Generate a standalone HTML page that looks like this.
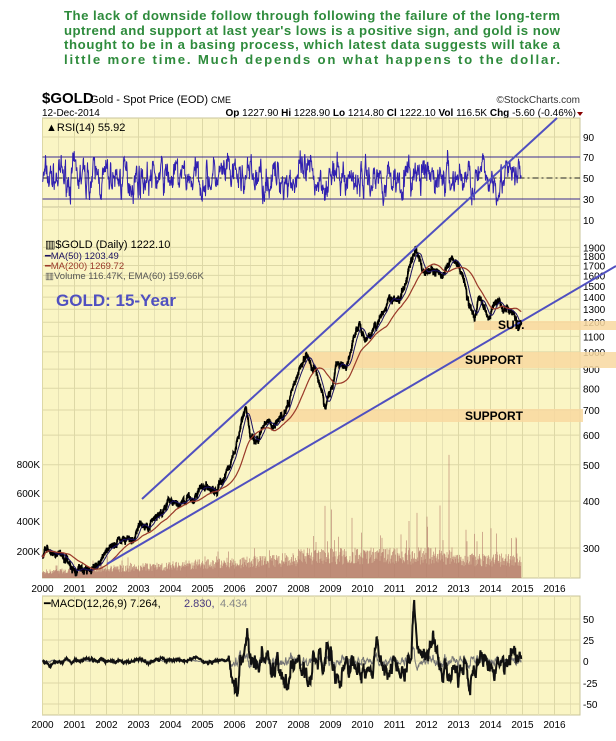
<!DOCTYPE html>
<html><head><meta charset="utf-8"><style>
body{margin:0;background:#fff;width:616px;height:741px;overflow:hidden;font-family:"Liberation Sans",sans-serif}
svg{position:absolute;left:0;top:0}
</style></head><body>
<svg id="s" width="616" height="741" xmlns="http://www.w3.org/2000/svg" font-family="Liberation Sans, sans-serif">
<g fill="#2e8b3c" font-weight="bold" font-size="13.2">
<text x="64" y="20" textLength="496" lengthAdjust="spacing">The lack of downside follow through following the failure of the long-term</text>
<text x="64" y="35" textLength="496" lengthAdjust="spacing">uptrend and support at last year's lows is a positive sign, and gold is now</text>
<text x="64" y="49" textLength="496" lengthAdjust="spacing">thought to be in a basing process, which latest data suggests will take a</text>
<text x="64" y="64" textLength="496" lengthAdjust="spacing">little more time. Much depends on what happens to the dollar.</text>
</g>
<text x="42" y="103" font-size="15" font-weight="bold" fill="#000">$GOLD</text>
<text x="90" y="103" font-size="11" fill="#000">Gold - Spot Price (EOD) <tspan font-size="9">CME</tspan></text>
<text x="580" y="103" font-size="10" fill="#333" text-anchor="end">©StockCharts.com</text>
<text x="42" y="116" font-size="10" fill="#000">12-Dec-2014</text>
<text x="576" y="116" font-size="10" fill="#000" text-anchor="end"><tspan font-weight="bold">Op</tspan> 1227.90  <tspan font-weight="bold">Hi</tspan> 1228.90  <tspan font-weight="bold">Lo</tspan> 1214.80  <tspan font-weight="bold">Cl</tspan> 1222.10  <tspan font-weight="bold">Vol</tspan> 116.5K  <tspan font-weight="bold">Chg</tspan> -5.60 (-0.46%)</text>
<polygon points="577,112 583,112 580,116" fill="#800"/>
<g id="g"></g>
</svg>
<script>
var NS="http://www.w3.org/2000/svg",G=document.getElementById('g');
function el(t,a,txt){var e=document.createElementNS(NS,t);for(var k in a)e.setAttribute(k,a[k]);if(txt!=null)e.textContent=txt;G.appendChild(e);return e;}
var L=42.5,R=580,BG="#faf5c4",GR="#ddd8a6";
function X(t){return L+32*(t-2000);}
var seed=7;function rnd(){seed=(seed*16807)%2147483647;return seed/2147483647;}
function gauss(){return (rnd()+rnd()+rnd()-1.5)*1.4;}
var panels=[[118,207],[207,578],[596,715]];
panels.forEach(function(p){el('rect',{x:L,y:p[0],width:R-L,height:p[1]-p[0],fill:BG,stroke:"#c8c49a"});
 for(var t=2000;t<=2016.5;t+=0.5){var x=X(t);el('line',{x1:x,x2:x,y1:p[0],y2:p[1],stroke:t%1?"#e6e1b4":GR,"stroke-width":1});}});
[137,157,178,199,220].forEach(function(y,i){el('line',{x1:L,x2:R,y1:y,y2:y,stroke:GR});el('text',{x:R+3,y:y+4,"font-size":10,fill:"#000"},[90,70,50,30,10][i]);});
el('line',{x1:L,x2:R,y1:157,y2:157,stroke:"#3a2a90"});el('line',{x1:L,x2:R,y1:199,y2:199,stroke:"#3a2a90"});
el('line',{x1:L,x2:R,y1:178,y2:178,stroke:"#222","stroke-dasharray":"6,3,2,3"});
el('text',{x:46,y:131,"font-size":11,fill:"#000"},"▲RSI(14) 55.92");
var d="",v=50;for(var i=0;i<=1440;i++){var t=2000+i/96;if(t>2014.96)break;v+= (50-v)*0.25+gauss()*9;v=Math.max(18,Math.min(86,v));d+=(i?"L":"M")+X(t).toFixed(1)+","+(178-(v-50)*1.05).toFixed(1);}
el('path',{d:d,fill:"none",stroke:"#3020b0","stroke-width":1});
function PY(p){return 548-375*Math.log10(p/300);}
[1900,1800,1700,1600,1500,1400,1300,1200,1100,1000,900,800,700,600,500,400,300].forEach(function(p){var y=PY(p);el('line',{x1:L,x2:R,y1:y,y2:y,stroke:GR});el('text',{x:R+3,y:y+4,"font-size":10,fill:"#000"},p);});
[[800,464],[600,493],[400,521],[200,551]].forEach(function(a){el('text',{x:40,y:a[1]+4,"font-size":10,fill:"#000","text-anchor":"end"},a[0]+"K");});
el('rect',{x:474,y:321,width:142,height:9,fill:"#f8d8a0",opacity:0.85});
el('rect',{x:302,y:352,width:314,height:16,fill:"#f8d8a0",opacity:0.85});
el('rect',{x:246,y:409,width:337,height:13,fill:"#f8d8a0",opacity:0.85});
for(var i=0;i<960;i++){var t=2000+i/64;if(t>2014.96)break;var base=t<2007.5?6+ (t-2000)*1.5:t<2008?18:22-(t>2013?4:0);var h=base*(0.6+rnd()*0.8);if(rnd()<0.05)h*=1.8;if(t>2007.5&&rnd()<0.02)h*=2.4;el('line',{x1:X(t),x2:X(t),y1:578,y2:578-h,stroke:"#b47a6a","stroke-width":0.6});}
var K=[[2000,285],[2000.1,300],[2000.5,285],[2001.3,260],[2001.7,275],[2002,290],[2002.4,320],[2002.8,320],[2003.1,360],[2003.3,330],[2003.9,400],[2004.3,390],[2004.6,400],[2004.95,440],[2005.4,425],[2005.9,500],[2006.35,720],[2006.5,580],[2006.8,610],[2007,640],[2007.6,680],[2008.2,1000],[2008.5,900],[2008.85,720],[2009.2,940],[2009.5,930],[2009.9,1180],[2010.1,1080],[2010.5,1230],[2010.9,1400],[2011.1,1330],[2011.65,1900],[2011.95,1600],[2012.3,1650],[2012.5,1580],[2012.75,1790],[2013.1,1650],[2013.3,1400],[2013.5,1200],[2013.65,1400],[2013.95,1220],[2014.2,1380],[2014.5,1310],[2014.75,1220],[2014.87,1150],[2014.96,1222]];
function price(t){for(var j=1;j<K.length;j++)if(t<=K[j][0]){var a=K[j-1],b=K[j],f=(t-a[0])/(b[0]-a[0]);return Math.exp(Math.log(a[1])+f*(Math.log(b[1])-Math.log(a[1])));}return 1222;}
var pts=[],w=0;for(var t=2000;t<=2014.96;t+=1/250){w+=(-w)*0.05+gauss()*0.008;var p=price(t)*(1+w+gauss()*0.01);pts.push([t,p]);}
function ma(wn){var o=[],s=0;for(var i=0;i<pts.length;i++){s+=pts[i][1];if(i>=wn)s-=pts[i-wn][1];o.push([pts[i][0],s/Math.min(i+1,wn)]);}return o;}
function path(a){return a.map(function(q,i){return (i?"L":"M")+X(q[0]).toFixed(1)+","+PY(q[1]).toFixed(1);}).join("");}
el('path',{d:path(pts),fill:"none",stroke:"#000","stroke-width":1.7});
el('path',{d:path(ma(50)),fill:"none",stroke:"#1a1060","stroke-width":1});
el('path',{d:path(ma(200)),fill:"none",stroke:"#9a3a2a","stroke-width":1.2});
el('line',{x1:142,y1:499,x2:557,y2:118,stroke:"#5050c0","stroke-width":2});
el('line',{x1:107,y1:564,x2:616,y2:266,stroke:"#5050c0","stroke-width":2});
el('text',{x:498,y:329,"font-size":12,"font-weight":"bold",fill:"#000"},"SUP.");
el('text',{x:465,y:364,"font-size":12,"font-weight":"bold",fill:"#000"},"SUPPORT");
el('text',{x:465,y:420,"font-size":12,"font-weight":"bold",fill:"#000"},"SUPPORT");
el('text',{x:45,y:248,"font-size":11,fill:"#000"},"▥$GOLD (Daily) 1222.10");
el('text',{x:45,y:259,"font-size":9.5,fill:"#1a1060"},"━MA(50) 1203.49");
el('text',{x:45,y:269,"font-size":9.5,fill:"#9a3a2a"},"━MA(200) 1269.72");
el('text',{x:45,y:279,"font-size":9.5,fill:"#555"},"▥Volume 116.47K, EMA(60) 159.66K");
el('text',{x:56,y:306,"font-size":17,"font-weight":"bold",fill:"#5050c0"},"GOLD: 15-Year");
function MY(v){return 661-v*0.86;}
[[50,619],[25,640],[0,661],[-25,683],[-50,704]].forEach(function(a){el('line',{x1:L,x2:R,y1:a[1],y2:a[1],stroke:GR});el('text',{x:R+3,y:a[1]+4,"font-size":10,fill:"#000"},a[0]);});
el('text',{x:44,y:607,"font-size":11,fill:"#000"},"━MACD(12,26,9) 7.264, ");
el('text',{x:184,y:607,"font-size":11,fill:"#4a3a80"},"2.830, ");
el('text',{x:220,y:607,"font-size":11,fill:"#888"},"4.434");
var d1="",d2="",m=0,m2=0;for(var i=0;i<=1440;i++){var t=2000+i/96;if(t>2014.96)break;var amp=t<2005.8?3:18;m+=(-m)*0.08+gauss()*amp*0.35;var vv=m;
if(Math.abs(t-2011.62)<0.1)vv+=60*(1-Math.abs(t-2011.62)/0.1);
if(Math.abs(t-2013.35)<0.12)vv-=40*(1-Math.abs(t-2013.35)/0.12);
if(Math.abs(t-2008.75)<0.1)vv-=25*(1-Math.abs(t-2008.75)/0.1);
if(Math.abs(t-2006.4)<0.1)vv+=18*(1-Math.abs(t-2006.4)/0.1);
m2+=(vv-m2)*0.2;
d1+=(i?"L":"M")+X(t).toFixed(1)+","+MY(vv).toFixed(1);d2+=(i?"L":"M")+X(t).toFixed(1)+","+MY((vv-m2)*0.6).toFixed(1);}
el('path',{d:d2,fill:"none",stroke:"#777","stroke-width":1});
el('path',{d:d1,fill:"none",stroke:"#111","stroke-width":2});
for(var y=2000;y<=2016;y++){el('text',{x:X(y),y:592,"font-size":10,fill:"#000","text-anchor":"middle"},y);el('text',{x:X(y),y:728,"font-size":10,fill:"#000","text-anchor":"middle"},y);}
</script>
</body></html>
